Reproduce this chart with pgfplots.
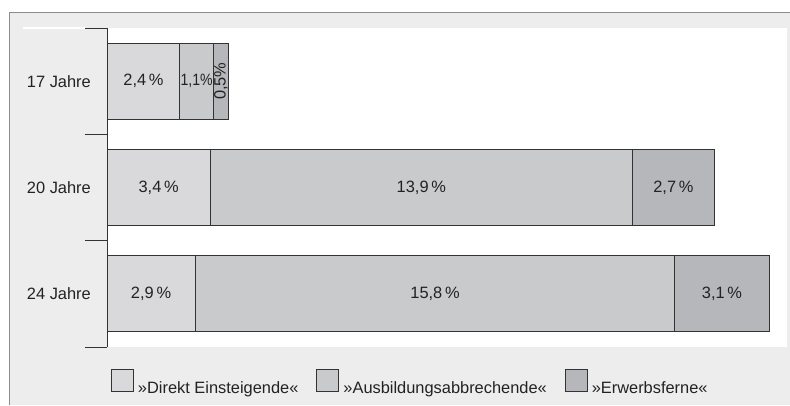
\documentclass[border=0pt]{standalone}
\usepackage{fontspec}
\setmainfont{Liberation Sans}
\usepackage{pgfplots}
\usepackage{pgfplotstable}
\pgfplotsset{compat=1.18}
\pgfkeys{/pgf/number format/assume math mode=true}
\definecolor{bgc}{HTML}{EDEDED}
\definecolor{frm}{HTML}{8C8C8C}
\definecolor{cA}{HTML}{D9D9DB}
\definecolor{cB}{HTML}{C9CACC}
\definecolor{cC}{HTML}{B6B7BA}
\definecolor{edge}{HTML}{333333}
\definecolor{txt}{HTML}{222222}
\newcommand{\fs}{\fontsize{16.4bp}{19bp}\selectfont}
\newcommand{\nar}[1]{\scalebox{0.86}[1]{#1}}
\pgfplotstableread{
pos direkt ausb erwerb
0 2.4 1.1 0.5
1 3.4 13.9 2.7
2 2.9 15.8 3.1
}\data
\pgfplotsset{
  common/.style={
    at={(107bp,58bp)}, anchor=south west,
    scale only axis, width=680bp, height=319bp,
    xmin=0, xmax=22.39, ymin=-0.5, ymax=2.5, y dir=reverse,
  }
}
\begin{document}
\begin{tikzpicture}[x=1bp,y=1bp]
\useasboundingbox (0,0) rectangle (790,405);
\fill[white] (0,0) rectangle (790,405);
\fill[bgc] (9,0) rectangle (790,392);
\draw[frm, line width=1bp] (9,0) -- (9,392) -- (790,392);
\fill[white] (107,58) rectangle (787,377);
\draw[white, line width=1.5bp] (23,377) -- (85,377);
\begin{axis}[
  common,
  xbar stacked, bar width=0.715,
  legend image code/.code={\draw[#1] (0bp,-3bp) rectangle (22bp,19bp);},
  axis x line=none, axis y line*=left,
  axis line style={edge, line width=1bp},
  ytick={-0.5,0.5,1.5,2.5}, yticklabels={},
  major tick length=22bp, tick align=outside,
  tick style={edge, line width=1bp},
  legend columns=3,
  legend cell align=left,
  legend style={at={(0.00588,-0.1097)}, anchor=west, draw=none, fill=none,
    inner sep=0pt, outer sep=0pt, font=\fs, text=txt, column sep=0pt,
    /tikz/every odd column/.append style={column sep=4bp},
    /tikz/every even column/.append style={column sep=18bp},
    nodes={inner sep=0pt}},
]
\addplot[fill=cA, draw=edge, line width=1bp] table[x=direkt, y=pos] {\data};
\addplot[fill=cB, draw=edge, line width=1bp] table[x=ausb, y=pos] {\data};
\addplot[fill=cC, draw=edge, line width=1bp] table[x=erwerb, y=pos] {\data};
\legend{»Direkt Einsteigende«, »Ausbildungsabbrechende«, »Erwerbsferne«}
\end{axis}
\begin{axis}[
  common,
  axis line style={draw=none},
  xtick=\empty,
  ytick={0,1,2}, yticklabels={{\fs 17 Jahre},{\fs 20 Jahre},{\fs 24 Jahre}},
  major tick length=0pt,
  tick label style={font=\fs},
  yticklabel style={font=\fs, text=txt, inner sep=0pt, xshift=-16bp},
  nodes near coords, point meta=explicit symbolic,
  every node near coord/.append style={anchor=center, font=\fs, text=txt, inner sep=0pt},
]
\addplot[draw=none, mark=none] coordinates {
  (1.2,0) [2,4\,\%]
  (2.95,0) [\nar{1,1\%}]
  (3.75,0) [\rotatebox{90}{0,5\%}]
  (1.7,1) [3,4\,\%]
  (10.35,1) [13,9\,\%]
  (18.65,1) [2,7\,\%]
  (1.45,2) [2,9\,\%]
  (10.8,2) [15,8\,\%]
  (20.25,2) [3,1\,\%]
};
\end{axis}
\end{tikzpicture}
\end{document}
